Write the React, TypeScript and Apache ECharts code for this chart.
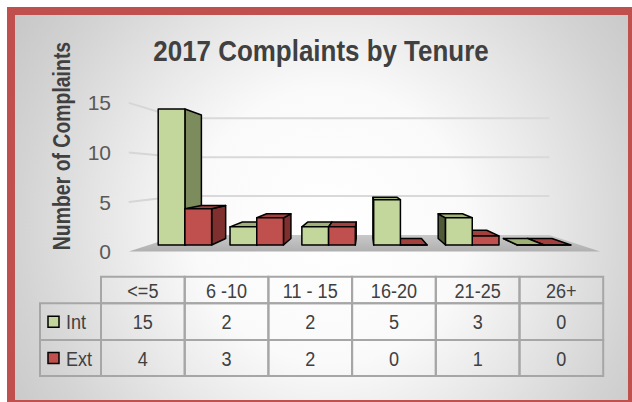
import React, { useEffect, useRef } from 'react';
import * as echarts from 'echarts';

// ---- data ----
const categories = ['<=5', '6 -10', '11 - 15', '16-20', '21-25', '26+'];
const intValues = [15, 2, 2, 5, 3, 0];
const extValues = [4, 3, 2, 0, 1, 0];
const seriesNames = ['Int', 'Ext'];
const yTicks = [0, 5, 10, 15];
const titleText = '2017 Complaints by Tenure';
const yAxisTitle = 'Number of Complaints';

// ---- style / layout ----
const FONT = "'Liberation Sans', Arial, sans-serif";
const VX = 365;
const VY = 174.3;
const R_BAR_BACK = 0.9085;
const R_FRONT = 1.0937;
const R_WALL = 0.8578;

const COLORS: any = {
  Int: { front: '#c3d69b', top: '#9db274', side: '#7d8c5c', sideDark: '#4f5a37' },
  Ext: { front: '#c0504d', top: '#a33f3c', side: '#7f2f2d', sideDark: '#6a2523' },
};

function proj(p: number[], r: number) {
  return [VX + (p[0] - VX) * r, VY + (p[1] - VY) * r];
}

const strokeStyle = { stroke: '#000000', lineWidth: 1.5, lineJoin: 'round' };

function makeBarSeries(name: string, values: number[], idx: number) {
  const c = COLORS[name];
  return {
    type: 'custom',
    name,
    xAxisIndex: 0,
    yAxisIndex: 0,
    z: 3,
    clip: false,
    silent: true,
    data: values.map((v, i) => [i, v]),
    renderItem: (params: any, api: any) => {
      const ci = api.value(0);
      const v = api.value(1);
      const base = api.coord([ci, 0]);
      const top = api.coord([ci, v]);
      const catW = api.size([1, 0])[0];
      const bw = catW * 0.372;
      const x0 = base[0] - bw + idx * bw;
      const x1 = x0 + bw;
      const yB = base[1];
      const yT = top[1];
      const FTL = [x0, yT], FTR = [x1, yT], FBR = [x1, yB], FBL = [x0, yB];
      const BTL = proj(FTL, R_BAR_BACK), BTR = proj(FTR, R_BAR_BACK);
      const BBR = proj(FBR, R_BAR_BACK), BBL = proj(FBL, R_BAR_BACK);
      const dist = Math.abs((x0 + x1) / 2 - VX);
      const zb = Math.round(400 - dist) * 2;
      const children: any[] = [];
      if (x1 < VX) {
        children.push({ type: 'polygon', z2: zb, shape: { points: [FTR, BTR, BBR, FBR] }, style: { fill: c.side, ...strokeStyle } });
      }
      if (x0 > VX) {
        children.push({ type: 'polygon', z2: zb, shape: { points: [FTL, BTL, BBL, FBL] }, style: { fill: c.sideDark, ...strokeStyle } });
      }
      if (yT > VY) {
        children.push({ type: 'polygon', z2: zb, shape: { points: [FTL, FTR, BTR, BTL] }, style: { fill: c.top, ...strokeStyle } });
      }
      children.push({ type: 'rect', z2: zb + 1, shape: { x: x0, y: yT, width: bw, height: yB - yT }, style: { fill: c.front, ...strokeStyle } });
      return { type: 'group', children };
    },
  };
}

const wallSeries = {
  type: 'custom',
  name: 'walls',
  xAxisIndex: 0,
  yAxisIndex: 0,
  z: 1,
  clip: false,
  silent: true,
  data: yTicks.map((t) => [0, t]),
  renderItem: (params: any, api: any) => {
    const t = api.value(1);
    const catW = api.size([1, 0])[0];
    const L = api.coord([0, t]);
    const Rr = api.coord([categories.length - 1, t]);
    const xl = L[0] - catW / 2;
    const xr = Rr[0] + catW / 2;
    const y = L[1];
    const fl = proj([xl, y], R_FRONT);
    const bl = proj([xl, y], R_WALL);
    const br = proj([xr, y], R_WALL);
    const fr = proj([xr, y], R_FRONT);
    const children: any[] = [];
    if (t === 0) {
      children.push({
        type: 'polygon',
        shape: { points: [fl, fr, br, bl] },
        style: {
          fill: new echarts.graphic.LinearGradient(0, 0, 0, 1, [
            { offset: 0, color: '#c9c9c9' },
            { offset: 1, color: '#b0b0b0' },
          ]),
        },
      });
    } else {
      children.push({ type: 'line', shape: { x1: fl[0], y1: fl[1], x2: bl[0], y2: bl[1] }, style: { stroke: '#d6d6d6', lineWidth: 2 } });
      children.push({ type: 'line', shape: { x1: bl[0], y1: bl[1], x2: br[0], y2: br[1] }, style: { stroke: '#d9d9d9', lineWidth: 2 } });
    }
    return { type: 'group', children };
  },
};

// table layout
const T_LEFT = 40;
const T_HEAD_X = 101;
const T_COL_W = 83.7;
const T_ROWS = [276.7, 303.3, 340, 376];
const TABLE_LINE = '#a6a6a6';
const TEXT_COLOR = '#404040';

function txt(x: number, y: number, text: string, size: number, align: string, scaleX: number, extra: any = {}) {
  return {
    type: 'text',
    x,
    y,
    z: 10,
    scaleX,
    style: {
      text,
      fontSize: size,
      fontFamily: FONT,
      fill: TEXT_COLOR,
      align,
      verticalAlign: 'middle',
      textAlign: align,
      textVerticalAlign: 'middle',
      ...extra,
    },
  };
}

function buildGraphics() {
  const g: any[] = [];
  g.push({
    type: 'rect',
    z: 0,
    shape: { x: 11, y: 11, width: 621, height: 393 },
    style: {
      fill: new echarts.graphic.RadialGradient(330, 225, 390, [
        { offset: 0, color: '#ffffff' },
        { offset: 0.35, color: '#fafafa' },
        { offset: 0.55, color: '#e9e9e9' },
        { offset: 0.8, color: '#d3d3d3' },
        { offset: 1, color: '#c5c5c5' },
      ], true),
      stroke: '#c0504d',
      lineWidth: 8,
    },
  });
  g.push(txt(321, 51, titleText, 30, 'center', 0.865, { fontWeight: 'bold' }));
  g.push({ ...txt(0, 0, yAxisTitle, 24, 'center', 0.81, { fontWeight: 'bold' }), x: 62, y: 146, rotation: Math.PI / 2 });

  // header row
  categories.forEach((cat, i) => {
    const x = T_HEAD_X + i * T_COL_W;
    g.push({ type: 'rect', z: 9, shape: { x, y: T_ROWS[0], width: T_COL_W, height: T_ROWS[1] - T_ROWS[0] }, style: { fill: 'transparent', stroke: TABLE_LINE, lineWidth: 2 } });
    g.push(txt(x + T_COL_W / 2, (T_ROWS[0] + T_ROWS[1]) / 2, cat, 21, 'center', 0.86));
  });
  const rows = [intValues, extValues];
  rows.forEach((vals, r) => {
    const y0 = T_ROWS[r + 1];
    const y1 = T_ROWS[r + 2];
    const cy = (y0 + y1) / 2;
    const name = seriesNames[r];
    g.push({ type: 'rect', z: 9, shape: { x: T_LEFT, y: y0, width: T_HEAD_X - T_LEFT, height: y1 - y0 }, style: { fill: 'transparent', stroke: TABLE_LINE, lineWidth: 2 } });
    g.push({ type: 'rect', z: 10, shape: { x: 48, y: cy - 5.5, width: 11, height: 11 }, style: { fill: COLORS[name].front, stroke: '#000', lineWidth: 1.5 } });
    g.push(txt(66, cy, name, 21, 'left', 0.86));
    vals.forEach((v, i) => {
      const x = T_HEAD_X + i * T_COL_W;
      g.push({ type: 'rect', z: 9, shape: { x, y: y0, width: T_COL_W, height: y1 - y0 }, style: { fill: 'transparent', stroke: TABLE_LINE, lineWidth: 2 } });
      g.push(txt(x + T_COL_W / 2, cy, String(v), 21, 'center', 0.86));
    });
  });
  return g;
}

export default function App() {
  const ref = useRef<HTMLDivElement>(null);
  useEffect(() => {
    if (!ref.current) return;
    const chart = echarts.init(ref.current, undefined, { renderer: 'svg' });
    chart.setOption({
      animation: false,
      graphic: { elements: buildGraphics() },
      grid: [
        { left: 149, width: 431, top: 109, height: 136 },
        { left: 128, width: 450, top: 102.9, height: 148.7 },
      ],
      xAxis: [
        { type: 'category', gridIndex: 0, data: categories, show: false, boundaryGap: true },
        { type: 'value', gridIndex: 1, show: false },
      ],
      yAxis: [
        { type: 'value', gridIndex: 0, min: 0, max: 15, show: false },
        {
          type: 'value',
          gridIndex: 1,
          min: 0,
          max: 15,
          interval: 5,
          axisLine: { show: false },
          axisTick: { show: false },
          splitLine: { show: false },
          axisLabel: { fontSize: 21, color: '#595959', fontFamily: FONT, margin: 17 },
          z: 5,
        },
      ],
      series: [wallSeries, makeBarSeries('Int', intValues, 0), makeBarSeries('Ext', extValues, 1)],
    });
    return () => chart.dispose();
  }, []);
  return <div ref={ref} style={{ position: 'absolute', left: 0, top: 0, width: 632, height: 402 }} />;
}
